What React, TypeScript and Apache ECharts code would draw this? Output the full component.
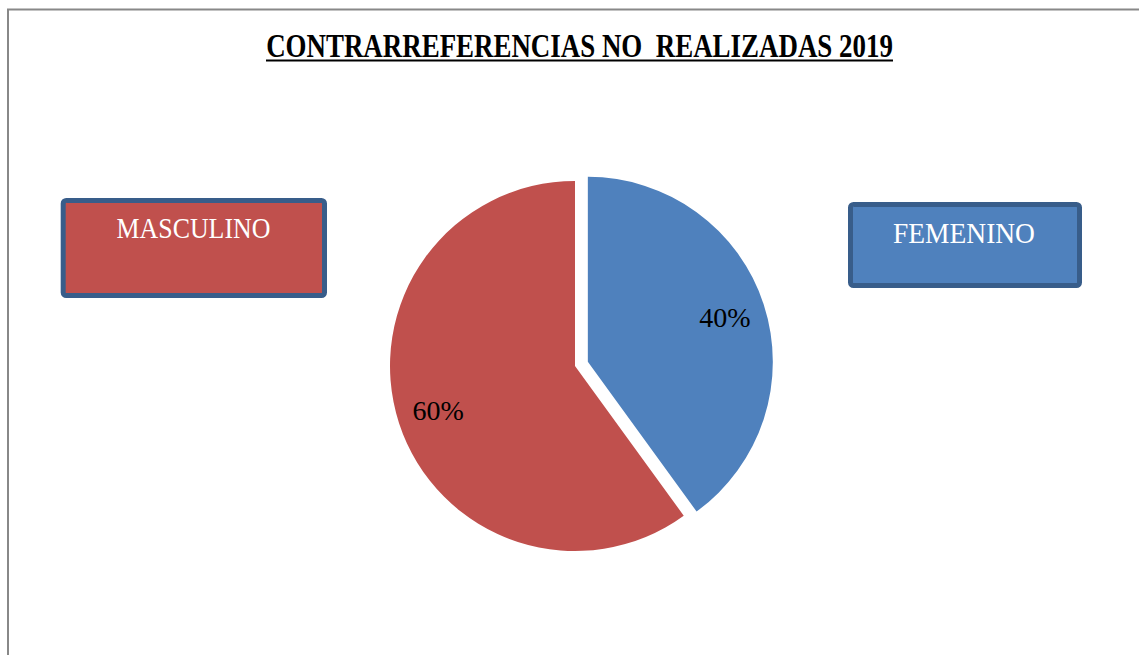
import React, { useEffect, useRef } from "react";
import * as echarts from "echarts";

const TITLE = "CONTRARREFERENCIAS NO  REALIZADAS 2019";
const categories = ["FEMENINO", "MASCULINO"];
const values = [40, 60];
const colors = ["#4F81BD", "#C0504D"];
const boxBorder = "#385D8A";
const SERIF = '"Liberation Serif", "DejaVu Serif", serif';

function measure(text: string, font: string): number {
  const ctx = document.createElement("canvas").getContext("2d");
  if (!ctx) return 1;
  ctx.font = font;
  return ctx.measureText(text).width || 1;
}

export default function App() {
  const ref = useRef<HTMLDivElement>(null);

  useEffect(() => {
    if (!ref.current) return;
    const chart = echarts.init(ref.current, undefined, { renderer: "svg" });

    const titleFont = `bold 33px ${SERIF}`;
    const titleW = 627;
    const titleScale = titleW / measure(TITLE, titleFont);
    const titleCx = 579.5;

    const boxFont = `30px ${SERIF}`;
    const mascScale = 154 / measure(categories[1], boxFont);
    const femScale = 142 / measure(categories[0], boxFont);

    const total = values.reduce((a, b) => a + b, 0);
    const pieData = categories.map((name, i) => ({
      name,
      value: values[i],
      selected: i === 0,
      itemStyle: { color: colors[i] },
    }));

    const center = [575, 366];

    chart.setOption({
      animation: false,
      backgroundColor: "#ffffff",
      series: [
        {
          type: "pie",
          center,
          radius: [0, 185],
          startAngle: 90,
          clockwise: true,
          selectedMode: "single",
          selectedOffset: 13.5,
          avoidLabelOverlap: false,
          silent: true,
          emphasis: { disabled: true },
          label: { show: false },
          labelLine: { show: false },
          itemStyle: { borderWidth: 0 },
          data: pieData,
        },
        {
          type: "pie",
          center,
          radius: [97, 185],
          startAngle: 90,
          clockwise: true,
          selectedMode: "single",
          selectedOffset: 13.5,
          avoidLabelOverlap: false,
          silent: true,
          emphasis: { disabled: true },
          labelLine: { show: false },
          itemStyle: { color: "rgba(0,0,0,0)", borderWidth: 0 },
          label: {
            show: true,
            position: "inside",
            color: "#000000",
            fontFamily: SERIF,
            fontSize: 28,
            formatter: (p: any) => `${Math.round((p.value / total) * 100)}%`,
          },
          data: pieData.map((d) => ({ name: d.name, value: d.value, selected: d.selected })),
        },
      ],
      graphic: [
        {
          type: "rect",
          shape: { x: 8, y: 9.5, width: 1300, height: 800 },
          style: { fill: "none", stroke: "#888888", lineWidth: 2 },
          silent: true,
        },
        {
          type: "text",
          x: titleCx,
          y: 46,
          scaleX: titleScale,
          style: {
            text: TITLE,
            font: titleFont,
            fill: "#000000",
            align: "center",
            verticalAlign: "middle",
          },
          silent: true,
        },
        {
          type: "line",
          shape: { x1: titleCx - titleW / 2, y1: 60.5, x2: titleCx + titleW / 2, y2: 60.5 },
          style: { stroke: "#000000", lineWidth: 2 },
          silent: true,
        },
        {
          type: "rect",
          shape: { x: 63.2, y: 200.5, width: 261.3, height: 95, r: 3 },
          style: { fill: colors[1], stroke: boxBorder, lineWidth: 5 },
          silent: true,
        },
        {
          type: "text",
          x: 193.5,
          y: 228,
          scaleX: mascScale,
          style: {
            text: categories[1],
            font: boxFont,
            fill: "#ffffff",
            align: "center",
            verticalAlign: "middle",
          },
          silent: true,
        },
        {
          type: "rect",
          shape: { x: 850.5, y: 204.5, width: 229, height: 81, r: 3 },
          style: { fill: colors[0], stroke: boxBorder, lineWidth: 5 },
          silent: true,
        },
        {
          type: "text",
          x: 964,
          y: 233,
          scaleX: femScale,
          style: {
            text: categories[0],
            font: boxFont,
            fill: "#ffffff",
            align: "center",
            verticalAlign: "middle",
          },
          silent: true,
        },
      ],
    });

    return () => chart.dispose();
  }, []);

  return (
    <div
      ref={ref}
      style={{ position: "fixed", left: 0, top: 0, width: 1139, height: 655, background: "#fff" }}
    />
  );
}
